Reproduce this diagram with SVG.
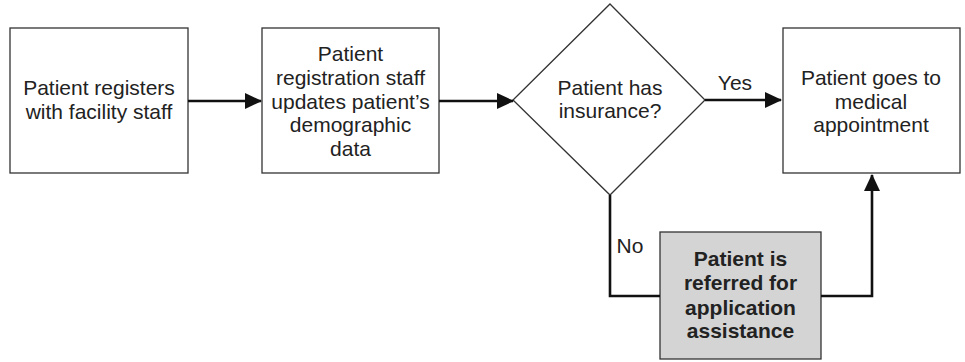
<svg xmlns="http://www.w3.org/2000/svg" width="965" height="362" viewBox="0 0 965 362">
<style>
.box{fill:#fff;stroke:#333;stroke-width:1.3}
.gray{fill:#d4d4d4;stroke:#333;stroke-width:1.3}
.t{font-family:"Liberation Sans",Arial,sans-serif;font-size:21px;fill:#222;text-anchor:middle}
.b{font-weight:bold}
.c{fill:none;stroke:#111;stroke-width:2.6}
</style>
<defs>
<marker id="ah" markerUnits="userSpaceOnUse" markerWidth="18" markerHeight="18" refX="16" refY="9" orient="auto">
<path d="M0,1 L17,9 L0,17 Z" fill="#111"/>
</marker>
</defs>
<rect width="965" height="362" fill="#fff"/>
<g id="n1">
<rect class="box" x="10" y="28" width="178" height="145"/>
<text class="t" x="99" y="95">Patient registers</text>
<text class="t" x="99" y="119">with facility staff</text>
</g>
<g id="n2">
<rect class="box" x="262" y="28" width="177" height="145"/>
<text class="t" x="350.5" y="61">Patient</text>
<text class="t" x="350.5" y="85">registration staff</text>
<text class="t" x="350.5" y="109">updates patient’s</text>
<text class="t" x="350.5" y="132">demographic</text>
<text class="t" x="350.5" y="156">data</text>
</g>
<g id="n3">
<polygon class="box" points="610,4 705,100 610,195 513,100"/>
<text class="t" x="610" y="95">Patient has</text>
<text class="t" x="610" y="118">insurance?</text>
</g>
<g id="n4">
<rect class="box" x="783" y="28" width="177" height="145"/>
<text class="t" x="871" y="85">Patient goes to</text>
<text class="t" x="871" y="109">medical</text>
<text class="t" x="871" y="132">appointment</text>
</g>
<g id="n5">
<rect class="gray" x="660" y="232" width="161" height="127"/>
<text class="t b" x="740.5" y="266">Patient is</text>
<text class="t b" x="740.5" y="290">referred for</text>
<text class="t b" x="740.5" y="315">application</text>
<text class="t b" x="740.5" y="338">assistance</text>
</g>
<g id="connectors">
<line class="c" x1="188" y1="101" x2="261" y2="101" marker-end="url(#ah)"/>
<line class="c" x1="439" y1="101" x2="513" y2="101" marker-end="url(#ah)"/>
<line class="c" x1="705" y1="100" x2="781" y2="100" marker-end="url(#ah)"/>
<polyline class="c" points="610,195 610,296 660,296"/>
<polyline class="c" points="821,296 872,296 872,175" marker-end="url(#ah)"/>
<text class="t" x="735" y="90">Yes</text>
<text class="t" x="630" y="253">No</text>
</g>
</svg>
